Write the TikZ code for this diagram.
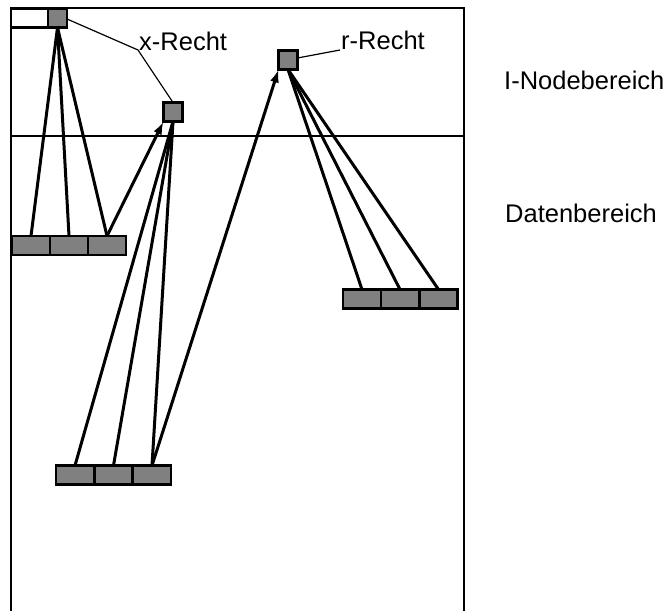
\documentclass[tikz,border=0pt]{standalone}
\usepackage{fontspec}
\setmainfont{Liberation Sans}
\usetikzlibrary{arrows.meta}
\definecolor{cellgray}{RGB}{128,128,128}
\begin{document}
\begin{tikzpicture}[x=1pt,y=-1pt,
  frame/.style={line width=2.8pt},
  cell/.style={draw,line width=2.6pt,fill=cellgray,minimum width=38pt,minimum height=19pt,inner sep=0pt,outer sep=0pt},
  sq/.style={draw,line width=2.6pt,fill=cellgray,minimum width=19pt,minimum height=19pt,inner sep=0pt,outer sep=0pt},
  blank/.style={draw,line width=2.6pt,fill=white,minimum width=37pt,minimum height=19pt,inner sep=0pt,outer sep=0pt},
  link/.style={line width=3pt},
  ptr/.style={line width=3pt,-{Latex[length=13pt,width=9pt]}},
  lab/.style={font=\fontsize{25.5}{30}\selectfont,inner sep=0pt,anchor=base west},
  labline/.style={line width=1.2pt}]
\useasboundingbox (0,0) rectangle (671,610);

% container with I-node area above the divider
\draw[frame] (11,612) -- (11,8) -- (464,8) -- (464,612);
\draw[frame] (11,136) -- (464,136);

% root i-node and the two indirect blocks
\node[blank] (root) at (29.5,18) {};
\node[sq] (g0) at (57.5,18) {};
\node[sq] (x) at (173,112) {};
\node[sq] (r) at (288,60) {};

% data blocks
\node[cell] (l1) at (31,245.5) {};
\node[cell] (l2) at (69,245.5) {};
\node[cell] (l3) at (107,245.5) {};
\node[cell] (b1) at (75,475) {};
\node[cell] (b2) at (113.5,475) {};
\node[cell] (b3) at (152,475) {};
\node[cell] (r1) at (362,299) {};
\node[cell] (r2) at (400,299) {};
\node[cell] (r3) at (438.5,299) {};

% block references
\foreach \t in {l1,l2,l3} \draw[link] (g0.south) -- (\t.north);
\foreach \t in {b1,b2,b3} \draw[link] (x.south) -- (\t.north);
\foreach \t in {r1,r2,r3} \draw[link] (r.south) -- (\t.north);
\draw[ptr] (l3.north) -- (x.south west);
\draw[ptr] (b3.north) -- (r.south west);

% labels
\coordinate (xk) at (138,50);
\coordinate (rk) at (340,50);
\draw[labline] ([yshift=-1pt]g0.east) -- (xk) -- (x.north);
\draw[labline] ([yshift=2pt]r.east) -- (rk);
\node[lab] (xl) at (139,50) {x-Recht};
\node[lab] (rl) at (341,49) {r-Recht};
\node[lab] (inode) at (504,89) {I-Nodebereich};
\node[lab] (daten) at (505,222) {Datenbereich};
\end{tikzpicture}
\end{document}
